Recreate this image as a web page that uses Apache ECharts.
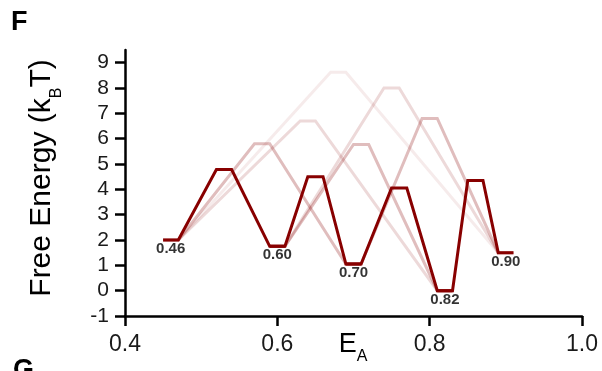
<!DOCTYPE html>
<html>
<head>
<meta charset="utf-8">
<script src="https://cdn.jsdelivr.net/npm/echarts@6/dist/echarts.min.js"></script>
<style>
  html, body { margin: 0; padding: 0; background: #fff; }
  #chart { width: 602px; height: 371px; }
</style>
</head>
<body>
<div id="chart"></div>
<script>
// Metastable states: FRET efficiency and free energy (kBT)
const stateE = [0.46, 0.60, 0.70, 0.82, 0.90];
const stateG = [2.0, 1.75, 1.05, 0.0, 1.5];

// Transition barriers between state pairs (index into the state arrays)
const barrierFrom = [0, 1, 2, 3, 0, 1, 2, 0, 1, 0];
const barrierTo   = [1, 2, 3, 4, 2, 3, 4, 3, 4, 4];
const barrierG    = [4.78, 4.5, 4.05, 4.35, 5.8, 5.77, 6.8, 6.7, 8.0, 8.62];

// Axis ticks
const xTicks = [0.4, 0.6, 0.8, 1.0];
const yTicks = [-1, 0, 1, 2, 3, 4, 5, 6, 7, 8, 9];

const FONT = '"Liberation Sans", Arial, sans-serif';
const RED = '#880000';
const HALF = 0.01;                  // half-width of each flat plateau
const skipOpacity = [1, 0.26, 0.15, 0.08];

const chart = echarts.init(document.getElementById('chart'), null, { renderer: 'canvas' });

// One path per transition: state plateau -> barrier plateau -> state plateau
const pathSeries = barrierFrom.map((a, k) => {
  const b = barrierTo[k];
  const mid = (stateE[a] + stateE[b]) / 2;
  const pts = [
    [stateE[a] - HALF, stateG[a]], [stateE[a] + HALF, stateG[a]],
    [mid - HALF, barrierG[k]], [mid + HALF, barrierG[k]],
    [stateE[b] - HALF, stateG[b]], [stateE[b] + HALF, stateG[b]]
  ];
  const skip = b - a - 1;
  return {
    type: 'line', data: pts, showSymbol: false, silent: true,
    z: skip === 0 ? 5 : 3 - skip * 0.1,
    lineStyle: { color: RED, width: 3, opacity: skipOpacity[skip], join: 'miter' },
    animation: false
  };
}).sort((p, q) => p.z - q.z);

const labelSeries = {
  type: 'scatter',
  data: stateE.map((e, i) => [e, stateG[i]]),
  symbolSize: 1,
  itemStyle: { color: 'rgba(0,0,0,0)' },
  silent: true, z: 10, animation: false,
  label: {
    show: true, position: 'inside', offset: [0, 9],
    formatter: p => p.value[0].toFixed(2),
    fontFamily: FONT, fontSize: 15, fontWeight: 'bold', color: '#000'
  }
};

chart.setOption({
  backgroundColor: '#fff',
  animation: false,
  grid: { left: 125, right: 20, top: 50, bottom: 55, containLabel: false, outerBoundsMode: 'none' },
  xAxis: {
    type: 'value', min: 0.4, max: 1.0, interval: 0.2,
    axisLine: { show: true, onZero: false, lineStyle: { color: '#000', width: 2.5 } },
    axisTick: { show: true, length: 10, lineStyle: { color: '#000', width: 2.5 } },
    axisLabel: {
      margin: 17, fontFamily: FONT, fontSize: 23, color: '#1a1a1a',
      customValues: xTicks, formatter: v => v.toFixed(1)
    },
    splitLine: { show: false }
  },
  yAxis: {
    type: 'value', min: -1, max: 9.5, interval: 1,
    axisLine: { show: true, onZero: false, lineStyle: { color: '#000', width: 2.5 } },
    axisTick: { show: true, length: 10, customValues: yTicks, lineStyle: { color: '#000', width: 2.5 } },
    axisLabel: {
      margin: 16, fontFamily: FONT, fontSize: 21, color: '#1a1a1a',
      customValues: yTicks
    },
    splitLine: { show: false }
  },
  series: pathSeries.concat([labelSeries]),
  graphic: [
    {
      type: 'text', left: 11, top: 9,
      style: { text: 'F', font: 'bold 27px ' + FONT, fill: '#000' }
    },
    {
      type: 'text', left: 13, top: 357,
      style: { text: 'G', font: 'bold 27px ' + FONT, fill: '#000' }
    },
    {
      type: 'text', x: 42, y: 178, rotation: Math.PI / 2,
      style: {
        text: '{a|Free Energy (k}{b|B}{a|T)}',
        align: 'center', verticalAlign: 'middle',
        rich: {
          a: { fontFamily: FONT, fontSize: 30, lineHeight: 46, fill: '#000', verticalAlign: 'middle' },
          b: { fontFamily: FONT, fontSize: 16, lineHeight: 16, fill: '#000', verticalAlign: 'bottom' }
        }
      }
    },
    {
      type: 'text', x: 353, y: 345,
      style: {
        text: '{e|E}{s|A}',
        align: 'center', verticalAlign: 'middle',
        rich: {
          e: { fontFamily: FONT, fontSize: 27, lineHeight: 40, fill: '#000', verticalAlign: 'middle' },
          s: { fontFamily: FONT, fontSize: 16, lineHeight: 16, fill: '#000', verticalAlign: 'bottom' }
        }
      }
    }
  ]
});
</script>
</body>
</html>
